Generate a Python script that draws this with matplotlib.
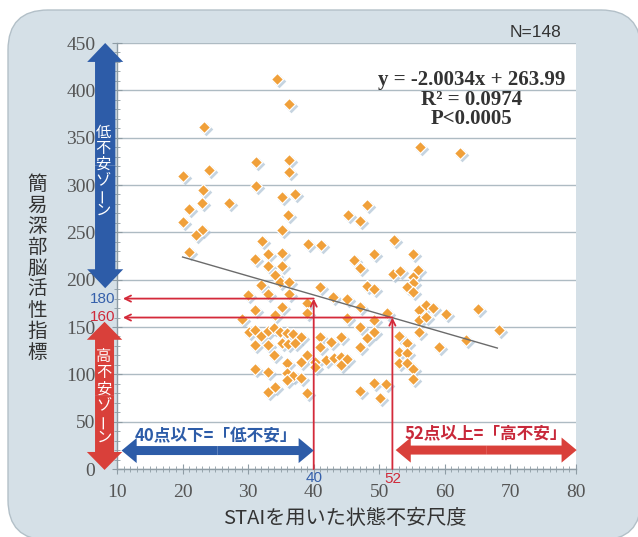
import matplotlib
matplotlib.use('Agg')
import matplotlib.pyplot as plt
import matplotlib.patches as mpatches
import matplotlib.transforms as mtransforms
from matplotlib.ticker import MultipleLocator

# ---------------- data ----------------
stai_score = [
    34.4, 36.2, 23.2, 31.2, 36.2, 36.2, 24.1, 20.0, 31.2, 23.1,
    35.1, 37.1, 23.0, 27.1, 21.0, 36.1, 20.1, 23.0, 22.1, 35.1,
    32.1, 21.0, 56.2, 62.3, 48.2, 45.3, 47.1, 39.1, 41.1, 52.3,
    31.1, 33.1, 35.1, 33.0, 35.1, 34.1, 46.1, 47.1, 49.2, 55.2,
    52.1, 53.2, 55.9, 55.1, 32.0, 34.9, 36.2, 41.0, 30.0, 33.0,
    36.2, 39.0, 42.9, 31.1, 35.1, 34.1, 39.0, 29.1, 30.2, 31.1,
    32.0, 33.0, 34.0, 34.9, 35.9, 36.9, 38.1, 31.0, 33.0, 35.1,
    36.1, 37.1, 41.0, 41.0, 34.0, 39.0, 38.0, 40.2, 35.9, 41.9,
    31.1, 33.0, 35.9, 36.9, 38.1, 35.9, 33.1, 34.1, 39.0, 40.2,
    55.2, 54.2, 55.2, 48.1, 49.2, 45.1, 47.1, 51.2, 56.0, 57.2,
    58.2, 56.0, 57.2, 60.1, 65.1, 68.3, 63.2, 45.1, 49.2, 56.0,
    59.1, 47.0, 49.2, 48.1, 44.1, 47.0, 42.6, 53.0, 54.2, 53.0,
    54.2, 53.0, 54.2, 55.2, 55.2, 43.1, 44.1, 45.1, 44.1, 47.0,
    49.2, 51.1, 50.1,
]
brain_index = [
    412.0, 385.2, 361.6, 324.8, 326.4, 313.4, 315.8, 309.8, 298.9, 294.7,
    287.6, 290.2, 281.5, 281.3, 274.6, 267.8, 260.4, 252.8, 247.5, 252.5,
    240.5, 228.9, 340.4, 334.3, 278.5, 268.3, 261.6, 238.2, 236.1, 241.4,
    221.8, 226.9, 228.2, 214.4, 214.1, 204.9, 221.3, 212.8, 226.9, 226.9,
    206.0, 208.8, 210.2, 203.3, 194.4, 197.8, 197.8, 191.9, 184.3, 184.9,
    184.5, 175.0, 181.7, 168.0, 170.8, 162.7, 165.1, 158.1, 145.0, 146.8,
    140.5, 146.1, 148.6, 145.0, 143.3, 142.6, 139.7, 131.0, 131.0, 132.8,
    131.7, 132.8, 139.7, 128.6, 120.4, 120.4, 113.3, 113.3, 111.7, 115.1,
    105.3, 102.8, 101.7, 98.2, 95.8, 94.0, 81.7, 86.9, 80.8, 108.1,
    196.2, 191.9, 187.3, 193.3, 189.8, 179.3, 171.4, 165.1, 168.0, 173.2,
    169.7, 157.4, 160.9, 163.4, 169.3, 146.8, 136.3, 159.2, 157.4, 145.0,
    128.9, 149.7, 145.0, 138.1, 139.7, 128.6, 134.5, 140.5, 132.8, 123.9,
    122.8, 111.7, 111.7, 105.3, 94.8, 116.9, 118.6, 115.9, 109.9, 82.9,
    90.8, 89.8, 75.0,
]
fit_slope = -2.0034
fit_intercept = 263.99
fit_x_range = [20, 68]

x_ticks = [10, 20, 30, 40, 50, 60, 70, 80]
y_ticks = [0, 50, 100, 150, 200, 250, 300, 350, 400, 450]

low_cut, high_cut = 40, 52          # STAI cut-offs
low_level, high_level = 180, 160    # corresponding index levels

n_text = 'N=148'
eq_lines = ['y = -2.0034x + 263.99', 'R² = 0.0974', 'P<0.0005']
x_label = 'STAIを用いた状態不安尺度'
y_label = '簡易深部脳活性指標'
low_zone = '低不安ゾーン'
high_zone = '高不安ゾーン'
low_text = '40点以下=「低不安」'
high_text = '52点以上=「高不安」'

# ---------------- styling ----------------
W, H = 638, 537
JP = ['Noto Sans CJK JP', 'DejaVu Sans']
SERIF = ['Liberation Serif', 'DejaVu Serif']
SANS = ['Liberation Sans', 'DejaVu Sans']
BLUE = '#2d5ca8'
RED = '#d9403a'
RED_LINE = '#d42a3a'
ORANGE = '#f0a03a'
GRID = '#aebbc3'
AXIS = '#8e9ca4'

fig = plt.figure(figsize=(W / 100, H / 100), dpi=100)
fig.patch.set_facecolor('white')

# rounded background panel
panel = mpatches.FancyBboxPatch((0.08, -0.03), 6.33, 5.30,
                                boxstyle='round,pad=0,rounding_size=0.40',
                                transform=fig.dpi_scale_trans,
                                facecolor='#d5e0e7', edgecolor='#b3c0c8',
                                linewidth=1.0, zorder=-10)
fig.patches.append(panel)

ax = fig.add_axes([117 / W, 1 - 469 / H, (576 - 117) / W, (469 - 43) / H])
ax.set_zorder(1)
ax.set_facecolor('white')
ax.set_xlim(10, 80)
ax.set_ylim(0, 450)
ax.set_xticks(x_ticks)
ax.set_yticks(y_ticks)
ax.xaxis.set_minor_locator(MultipleLocator(1))
ax.yaxis.set_minor_locator(MultipleLocator(10))
for s in ['top', 'right']:
    ax.spines[s].set_visible(False)
for s in ['left', 'bottom']:
    ax.spines[s].set_color(AXIS)
    ax.spines[s].set_linewidth(1.0)
ax.yaxis.grid(True, color=GRID, linewidth=1.0)
ax.set_axisbelow(True)
ax.tick_params(axis='both', which='major', direction='inout', length=7,
               color=AXIS, labelcolor='#555555', labelsize=14)
ax.tick_params(axis='both', which='minor', direction='inout', length=4,
               color=AXIS)
ax.tick_params(axis='x', which='major', pad=7)
ax.tick_params(axis='y', which='major', pad=12)
for lab in ax.get_xticklabels() + ax.get_yticklabels():
    lab.set_fontfamily(SERIF)

# scatter with soft shadow
shadow_off = mtransforms.ScaledTranslation(2 / 100, -2 / 100, fig.dpi_scale_trans)
ax.scatter(stai_score, brain_index, marker='D', s=48, color='#aec2d4',
           alpha=0.7, linewidths=0, transform=ax.transData + shadow_off, zorder=3)
ax.scatter(stai_score, brain_index, marker='D', s=38, color=ORANGE,
           edgecolors='white', linewidths=0.9, zorder=4)

# regression line
fx = fit_x_range
fy = [fit_slope * v + fit_intercept for v in fx]
ax.plot(fx, fy, color='#6b6b6b', linewidth=1.0, zorder=5)

# red guide lines with arrows
arrow_kw = dict(arrowstyle='->', color=RED_LINE, lw=1.3, shrinkA=0, shrinkB=0,
                mutation_scale=11)
ax.annotate('', xy=(low_cut, low_level), xytext=(low_cut, 0), arrowprops=arrow_kw,
            zorder=6)
ax.annotate('', xy=(high_cut, high_level), xytext=(high_cut, 0), arrowprops=arrow_kw,
            zorder=6)
ax.annotate('', xy=(10.9, low_level), xytext=(low_cut, low_level), arrowprops=arrow_kw,
            zorder=6)
ax.annotate('', xy=(10.9, high_level), xytext=(high_cut, high_level),
            arrowprops=arrow_kw, zorder=6)


def double_arrow(x0, y0, x1, y1, width, head_width, head_length, color):
    xm, ym = (x0 + x1) / 2, (y0 + y1) / 2
    for (xa, ya) in [(x0, y0), (x1, y1)]:
        a = mpatches.FancyArrow(xm, ym, xa - xm, ya - ym, width=width,
                                head_width=head_width, head_length=head_length,
                                length_includes_head=True, color=color,
                                linewidth=0, clip_on=False, zorder=7)
        ax.add_patch(a)


# zone arrows (vertical, left of axis)
double_arrow(8.2, 191, 8.2, 450, 3.1, 5.5, 20, BLUE)
double_arrow(8.1, -1, 8.1, 155.5, 2.9, 5.4, 19, RED)
# horizontal range arrows
double_arrow(10.7, 19.5, 40.0, 19.5, 9.5, 26.5, 2.3, BLUE)
double_arrow(52.5, 20, 80.1, 20, 9.5, 26.5, 2.3, RED)

ax.text(25.1, 34.5, low_text, color=BLUE, fontsize=12, fontweight='bold',
        family=JP, ha='center', va='center', zorder=8)
ax.text(66.2, 37.5, high_text, color='#c8283a', fontsize=12, fontweight='bold',
        family=JP, ha='center', va='center', zorder=8)

# level labels
ax.text(9.7, 180, '180', color='#3560ab', fontsize=11, family=SANS,
        ha='right', va='center', clip_on=False, zorder=8)
ax.text(9.7, 161, '160', color='#cf2a3a', fontsize=11, family=SANS,
        ha='right', va='center', clip_on=False, zorder=8)
ax.text(low_cut, -9.5, '40', color='#3560ab', fontsize=11, family=SANS,
        ha='center', va='center', clip_on=False, zorder=8)
ax.text(high_cut, -10.5, '52', color='#cf2a3a', fontsize=11, family=SANS,
        ha='center', va='center', clip_on=False, zorder=8)

# equation block
for i, (line, yy) in enumerate(zip(eq_lines, [411, 390, 370])):
    ax.text(64.1, yy, line, color='#333333', fontsize=15, fontweight='bold',
            family=SERIF, ha='center', va='center', zorder=8)

# N label
ax.text(77.7, 461, n_text, color='#333333', fontsize=12.5, family=SANS,
        ha='right', va='center', clip_on=False)


def vtext(px, py0, pitch, s, **kw):
    for i, ch in enumerate(s):
        rot = 90 if ch == 'ー' else 0
        fig.text(px / W, 1 - (py0 + i * pitch) / H, ch, ha='center', va='center',
                 rotation=rot, family=JP, zorder=10, **kw)


vtext(103, 133, 15.5, low_zone, color='white', fontsize=11)
vtext(104, 357, 16, high_zone, color='white', fontsize=11)
vtext(37, 184, 21, y_label, color='#333333', fontsize=14)

fig.text(345 / W, 1 - 519 / H, x_label, ha='center', va='center', fontsize=14.5,
         color='#333333', family=JP)

fig.savefig('out.png', dpi=100)
